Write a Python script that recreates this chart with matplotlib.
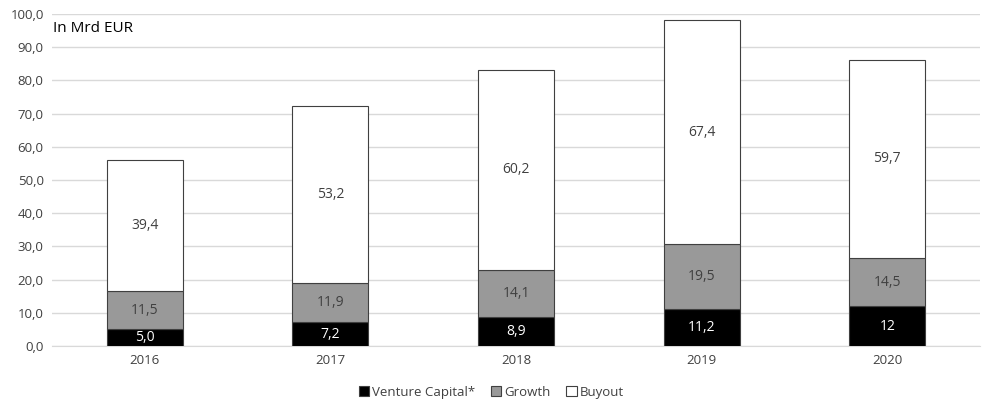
import numpy as np
import matplotlib.pyplot as plt
from matplotlib.ticker import FuncFormatter

plt.rcParams['font.family'] = ['Open Sans', 'DejaVu Sans']

years = ['2016', '2017', '2018', '2019', '2020']
venture = [5.0, 7.2, 8.9, 11.2, 12.0]
growth = [11.5, 11.9, 14.1, 19.5, 14.5]
buyout = [39.4, 53.2, 60.2, 67.4, 59.7]
venture_lbl = ['5,0', '7,2', '8,9', '11,2', '12']

txt = '#404040'
x = np.arange(len(years))
w = 0.41

fig = plt.figure(figsize=(9.82, 4.01), dpi=100)
ax = fig.add_axes([0.053, 0.137, 0.945, 0.828])

b1 = ax.bar(x, venture, w, color='black', edgecolor='#404040', linewidth=0.8,
            label='Venture Capital*', zorder=3)
b2 = ax.bar(x, growth, w, bottom=venture, color='#999999', edgecolor='#404040',
            linewidth=0.8, label='Growth', zorder=3)
bot3 = np.array(venture) + np.array(growth)
b3 = ax.bar(x, buyout, w, bottom=bot3, color='white', edgecolor='#404040',
            linewidth=0.8, label='Buyout', zorder=3)

for i in range(len(years)):
    ax.text(x[i], venture[i] / 2, venture_lbl[i], ha='center', va='center',
            color='white', fontsize=10, zorder=4)
    ax.text(x[i], venture[i] + growth[i] / 2, f'{growth[i]:.1f}'.replace('.', ','),
            ha='center', va='center', color=txt, fontsize=10, zorder=4)
    ax.text(x[i], bot3[i] + buyout[i] / 2, f'{buyout[i]:.1f}'.replace('.', ','),
            ha='center', va='center', color=txt, fontsize=10, zorder=4)

ax.set_xlim(-0.5, len(years) - 0.5)
ax.set_ylim(0, 100)
ax.set_yticks(np.arange(0, 101, 10))
ax.yaxis.set_major_formatter(FuncFormatter(lambda v, p: f'{v:.1f}'.replace('.', ',')))
ax.set_xticks(x)
ax.set_xticklabels(years)
ax.tick_params(axis='both', length=0, colors=txt, labelsize=9.5, pad=6)
ax.grid(axis='y', color='#d9d9d9', linewidth=1, zorder=0)
for s in ['top', 'right', 'left']:
    ax.spines[s].set_visible(False)
ax.spines['bottom'].set_color('#d9d9d9')

ax.text(0.001, 0.955, 'In Mrd EUR', transform=ax.transAxes, fontsize=11,
        color='black', va='center', ha='left')

fig.legend(handles=[b1, b2, b3], loc='center', bbox_to_anchor=(0.5, 0.022),
           ncol=3, frameon=False, fontsize=9.5, handlelength=0.8, handleheight=0.8,
           handletextpad=0.2, columnspacing=1.2, labelcolor=txt)

fig.savefig('out.png', dpi=100)
